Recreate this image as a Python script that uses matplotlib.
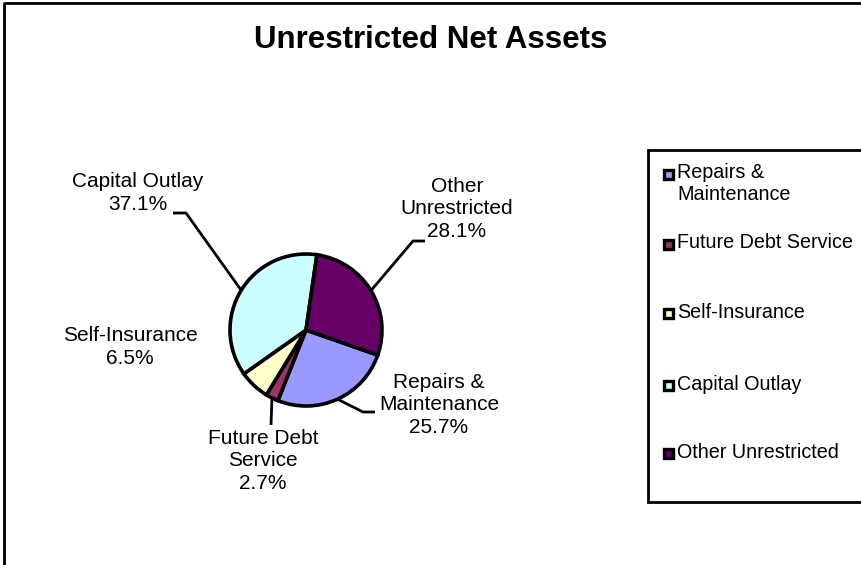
import matplotlib
matplotlib.use("Agg")
import matplotlib.pyplot as plt
from matplotlib.patches import Rectangle
import numpy as np

categories = ["Repairs & Maintenance", "Future Debt Service", "Self-Insurance",
              "Capital Outlay", "Other Unrestricted"]
values = [25.7, 2.7, 6.5, 37.1, 28.1]
label_names = ["Repairs &\nMaintenance", "Future Debt\nService", "Self-Insurance",
               "Capital Outlay", "Other\nUnrestricted"]
legend_names = ["Repairs &\nMaintenance", "Future Debt Service", "Self-Insurance",
                "Capital Outlay", "Other Unrestricted"]
colors = ["#9999FF", "#993366", "#FFFFCC", "#CCFFFF", "#660066"]
title = "Unrestricted Net Assets"

plt.rcParams['font.family'] = ['Liberation Sans', 'DejaVu Sans']

W, H = 862, 565
fig = plt.figure(figsize=(W / 100, H / 100), dpi=100)
ax = fig.add_axes([0, 0, 1, 1])

cx, cy, R = 306, 330, 76
wedges, _ = ax.pie(values, colors=colors, startangle=19.3, counterclock=True,
                   center=(cx, cy), radius=R,
                   wedgeprops=dict(edgecolor='black', linewidth=2.6))
ax.set_xlim(0, W)
ax.set_ylim(H, 0)
ax.set_aspect('auto')
ax.axis('off')

# figure border (extends past right/bottom)
ax.plot([4, 4, W + 10], [H + 10, 3, 3], color='black', lw=2.0, clip_on=False)

ax.text(431, 40, title, ha='center', va='center', fontsize=22.5, fontweight='bold')

fs = 15
# label positions (block centers) and leader elbows
label_pos = [(439, 405), (263, 461), (130, 347), (138, 193), (457, 209)]
elbows = [[(363, 412), (375, 412)],
          [(271, 425)],
          None,
          [(186, 213), (173, 213)],
          [(413, 241), (425, 241)]]

for w, v, name, pos, elb in zip(wedges, values, label_names, label_pos, elbows):
    ax.text(pos[0], pos[1], f"{name}\n{v:.1f}%", ha='center', va='center',
            fontsize=fs, linespacing=1.25)
    if elb is not None:
        mid = np.deg2rad((w.theta1 + w.theta2) / 2)
        ex, ey = cx + R * np.cos(mid), cy + R * np.sin(mid)
        xs = [ex] + [p[0] for p in elb]
        ys = [ey] + [p[1] for p in elb]
        ax.plot(xs, ys, color='black', lw=2.0, solid_capstyle='butt')

# legend box
ax.add_patch(Rectangle((648, 150), 300, 352, facecolor='white', edgecolor='black',
                       lw=2.0, clip_on=False))
leg_y = [174, 244, 313, 385, 453]
for name, c, y in zip(legend_names, colors, leg_y):
    ax.add_patch(Rectangle((664.5, y - 4.5), 9, 9, facecolor=c, edgecolor='black', lw=2.4))
    ax.text(677, y - 10.5, name, ha='left', va='top', fontsize=14.2, linespacing=1.15)

fig.savefig("out.png", dpi=100)
